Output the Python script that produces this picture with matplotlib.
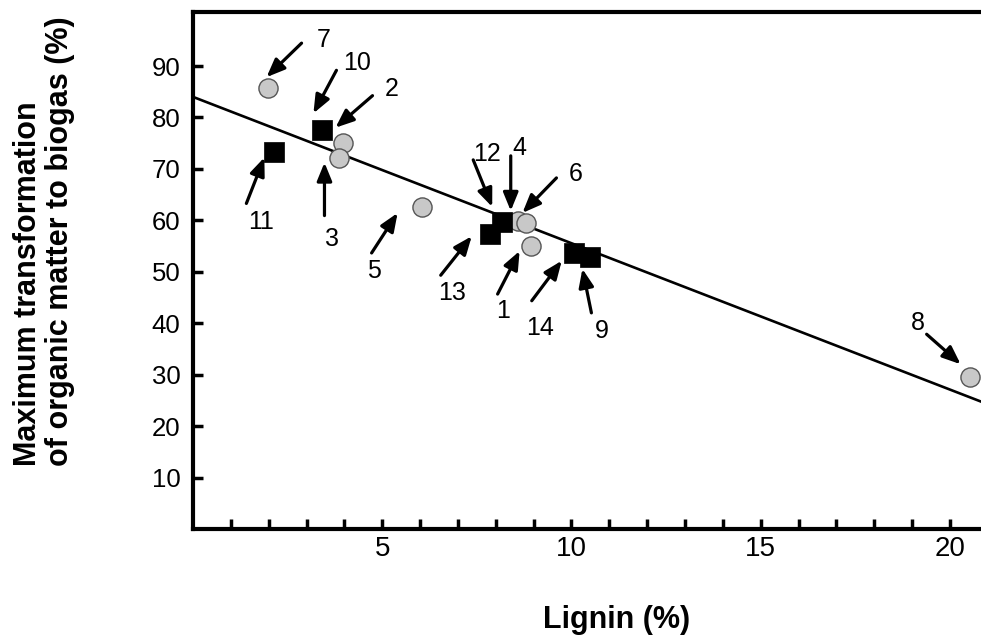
import numpy as np
import matplotlib
matplotlib.use("Agg")
import matplotlib.pyplot as plt
from matplotlib.transforms import offset_copy

plt.rcParams['font.family'] = ['Liberation Sans', 'DejaVu Sans']

# substrates: lignin content (%) vs maximum transformation to biogas (%)
circle_ids = ["1", "2", "3", "4", "5", "6", "7", "8"]
circle_lignin = [8.92, 3.95, 3.87, 8.58, 6.04, 8.81, 1.97, 20.52]
circle_biogas = [55.0, 75.1, 72.2, 59.9, 62.6, 59.5, 85.7, 29.5]

square_ids = ["9", "10", "11", "12", "13", "14"]
square_lignin = [10.50, 3.42, 2.15, 8.17, 7.84, 10.06]
square_biogas = [52.9, 77.5, 73.2, 59.7, 57.3, 53.7]

# regression line
fit_intercept = 84.0
fit_slope = -2.845

# arrow layout per label, in pixels (display y up):
# tip offset from point, tail offset from tip, label offset from point
arrow_layout = {
    "7":  ((-1, 11), (35, 34), (56, 48)),
    "10": ((-9, 17), (23, 43), (35, 67)),
    "2":  ((-7, 15), (37, 32), (49, 54)),
    "3":  ((-15, -5), (0, -53), (-7, -81)),
    "11": ((-10, -5), (-18, -46), (-13, -70)),
    "5":  ((-24, -6), (-26, -40), (-48, -64)),
    "12": ((-10, 15), (-19, 47), (-15, 68)),
    "4":  ((-7, 10), (0, 55), (2, 73)),
    "6":  ((-4, 10), (34, 35), (49, 49)),
    "13": ((-18, -2), (-31, -39), (-38, -59)),
    "1":  ((-11, -5), (-22, -43), (-28, -65)),
    "14": ((-12, -8), (-30, -40), (-34, -75)),
    "9":  ((-8, -12), (9, -44), (11, -74)),
    "8":  ((-9, 13), (-34, 30), (-52, 54)),
}

fig = plt.figure(figsize=(9.81, 6.35), dpi=100)
ax = fig.add_axes([193 / 981, 106 / 635, 788 / 981, 517 / 635])

xlim = (0, 20.82)
ax.set_xlim(xlim)
ax.set_ylim(0, 100.5)

xs = np.array(xlim)
ax.plot(xs, fit_intercept + fit_slope * xs, color="black", lw=1.9, zorder=2)

ax.scatter(circle_lignin, circle_biogas, s=190, marker="o", facecolor="#c8c8c8",
           edgecolor="#555555", linewidth=1.0, zorder=3)
ax.scatter(square_lignin, square_biogas, s=200, marker="s", facecolor="black",
           edgecolor="black", linewidth=0.5, zorder=4)

points = dict(zip(circle_ids, zip(circle_lignin, circle_biogas)))
points.update(zip(square_ids, zip(square_lignin, square_biogas)))

for name, (tip, tail, lab) in arrow_layout.items():
    x, y = points[name]
    tip_tr = offset_copy(ax.transData, fig=fig, x=tip[0], y=tip[1], units="dots")
    ax.annotate("", xy=(x, y), xycoords=tip_tr, xytext=tail,
                textcoords="offset pixels",
                arrowprops=dict(arrowstyle="-|>,head_length=1.1,head_width=0.45",
                                color="black", lw=2.3, shrinkA=0, shrinkB=0,
                                mutation_scale=10))
    ax.annotate(name, xy=(x, y), xytext=lab, textcoords="offset pixels",
                ha="center", va="center", fontsize=18)

for side in ["left", "bottom", "top"]:
    ax.spines[side].set_linewidth(3.0)
ax.spines["right"].set_visible(False)

ax.set_xticks(range(1, 21))
ax.set_xticklabels([str(i) if i % 5 == 0 else "" for i in range(1, 21)])
ax.set_yticks(range(10, 100, 10))
ax.tick_params(direction="in", length=7, width=2.5)
ax.tick_params(axis="x", pad=5, labelsize=20)
ax.tick_params(axis="y", pad=9, labelsize=18.5)

fig.text(617 / 981, 1 - 620 / 635, "Lignin (%)", ha="center", va="center",
         fontsize=22, fontweight="bold")
fig.text(44 / 981, 1 - 466 / 635,
         "Maximum transformation\nof organic matter to biogas (%)",
         rotation=90, ha="center", va="bottom", multialignment="left",
         fontsize=22, fontweight="bold", linespacing=1.1)

fig.savefig("out.png", dpi=100)
